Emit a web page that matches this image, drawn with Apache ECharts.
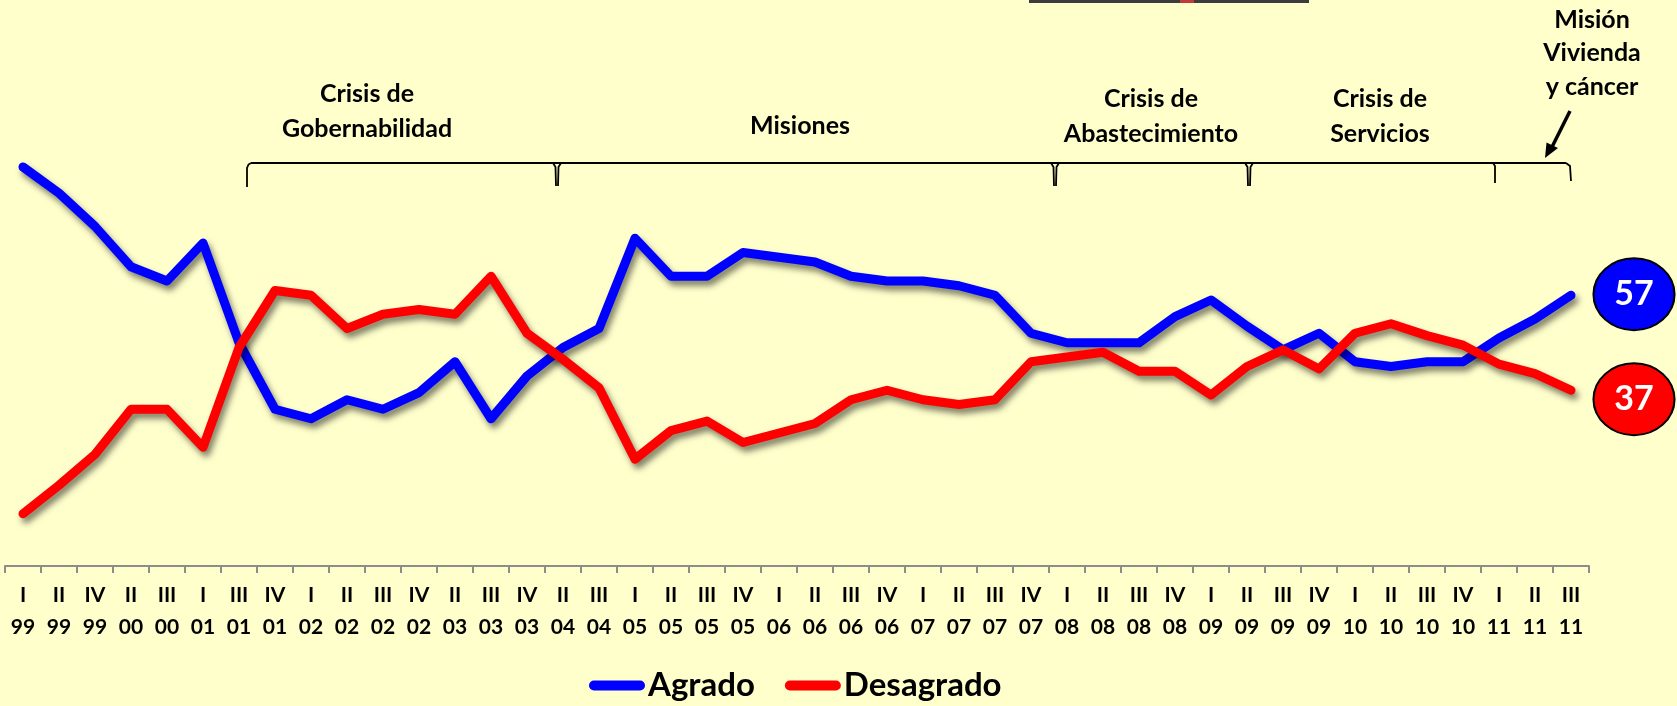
<!DOCTYPE html>
<html>
<head>
    <meta http-equiv="Content-Type" content="text/html; charset=utf-8"/>
    <title>Agrado / Desagrado</title>
    <style>
        html, body { margin: 0; padding: 0; background: #FFFFCC; }
        #main { width: 1677px; height: 706px; }
    </style>
    <script src="https://cdn.jsdelivr.net/npm/echarts@6/dist/echarts.min.js"></script>
</head>
<body>
<div id="main"></div>
<script type="text/javascript">
    // trimestres y años
    var trimestres = ['I','II','IV','II','III','I','III','IV','I','II','III','IV','II','III','IV',
        'II','III','I','II','III','IV','I','II','III','IV','I','II','III','IV','I',
        'II','III','IV','I','II','III','IV','I','II','III','IV','I','II','III'];
    var anios = ['99','99','99','00','00','01','01','01','02','02','02','02','03','03','03',
        '04','04','05','05','05','05','06','06','06','06','07','07','07','07','08',
        '08','08','08','09','09','09','09','10','10','10','10','11','11','11'];

    var agrado = [84, 78.5, 71.5, 63, 60, 68, 47, 33, 31, 35, 33, 36.5, 43, 31, 40,
        46, 50, 69, 61, 61, 66, 65, 64, 61, 60, 60, 59, 57, 49, 47,
        47, 47, 52.5, 56, 50.5, 45.5, 49, 43, 42, 43, 43, 48, 52, 57];
    var desagrado = [11, 17, 23.5, 33, 33, 25, 46, 58, 57, 50, 53, 54, 53, 61, 49,
        43.5, 37.5, 22.5, 28.5, 30.5, 26, 28, 30, 35, 37, 35, 34, 35, 43, 44,
        45, 41, 41, 36, 42, 45.5, 41.5, 49, 51, 48.5, 46.5, 42.5, 40.5, 37];

    var categorias = [];
    for (var i = 0; i < trimestres.length; i++) {
        categorias.push(trimestres[i] + '\n' + anios[i]);
    }
    var ultimo = agrado.length - 1;

    var elipse = 'path://M0,36 A40,36 0 1,1 80,36 A40,36 0 1,1 0,36 Z';
    var pildora = 'path://M5,0 H51 A5,5 0 0 1 51,10 H5 A5,5 0 0 1 5,0 Z';
    var fuente = 'Lato, "Open Sans", sans-serif';

    function texto(t, x, y, lh) {
        return {
            type: 'text', x: x, y: y, silent: true,
            style: {
                text: t, fill: '#000', font: 'bold 25px ' + fuente,
                align: 'center', verticalAlign: 'middle',
                textAlign: 'center', textVerticalAlign: 'middle',
                lineHeight: lh || 35
            }
        };
    }
    function trazo(pts) {
        return {
            type: 'polyline', silent: true,
            shape: { points: pts },
            style: { stroke: '#000', lineWidth: 1.8, fill: null }
        };
    }

    var myChart = echarts.init(document.getElementById('main'));

    var option = {
        backgroundColor: '#FFFFCC',
        animation: false,
        textStyle: { fontFamily: fuente },
        grid: { left: 5, right: 88, top: 91, bottom: 140 },
        legend: {
            left: 584,
            top: 664,
            itemWidth: 56,
            itemHeight: 10,
            itemGap: 30,
            textStyle: { fontSize: 33, fontWeight: 'bold', color: '#000', padding: [0, 0, 0, -2] },
            data: [
                { name: 'Agrado', icon: pildora },
                { name: 'Desagrado', icon: pildora }
            ],
            itemStyle: { shadowBlur: 0, shadowOffsetX: 0, shadowOffsetY: 0 },
            lineStyle: { shadowBlur: 0, shadowOffsetX: 0, shadowOffsetY: 0 }
        },
        xAxis: {
            type: 'category',
            data: categorias,
            boundaryGap: true,
            axisLine: { show: true, lineStyle: { color: '#8c8c8c', width: 2 } },
            axisTick: { show: true, interval: 0, alignWithLabel: false, length: 7, lineStyle: { color: '#8c8c8c', width: 2 } },
            axisLabel: {
                interval: 0,
                margin: 13,
                color: '#000',
                fontSize: 21,
                fontWeight: 'bold',
                lineHeight: 32
            }
        },
        yAxis: {
            type: 'value',
            min: 0,
            max: 100,
            show: false,
            splitLine: { show: false }
        },
        series: [
            {
                name: 'Agrado',
                type: 'line',
                data: agrado,
                symbol: 'none',
                color: '#0000FF',
                lineStyle: {
                    color: '#0000FF', width: 9, cap: 'round', join: 'round',
                    shadowColor: 'rgba(0,0,0,0.5)', shadowBlur: 6,
                    shadowOffsetX: 3, shadowOffsetY: 5
                },
                markPoint: {
                    symbol: elipse,
                    symbolSize: [81, 72],
                    symbolOffset: [63, -1],
                    itemStyle: { color: '#0000FF', borderColor: '#000', borderWidth: 2 },
                    label: { show: true, color: '#fff', fontSize: 34, fontWeight: 'bold', formatter: '{c}' },
                    data: [{ coord: [ultimo, agrado[ultimo]], value: agrado[ultimo] }]
                }
            },
            {
                name: 'Desagrado',
                type: 'line',
                data: desagrado,
                symbol: 'none',
                color: '#FF0000',
                lineStyle: {
                    color: '#FF0000', width: 9, cap: 'round', join: 'round',
                    shadowColor: 'rgba(0,0,0,0.5)', shadowBlur: 6,
                    shadowOffsetX: 3, shadowOffsetY: 5
                },
                markPoint: {
                    symbol: elipse,
                    symbolSize: [81, 72],
                    symbolOffset: [63, 9],
                    itemStyle: { color: '#FF0000', borderColor: '#000', borderWidth: 2 },
                    label: { show: true, color: '#fff', fontSize: 34, fontWeight: 'bold', formatter: '{c}' },
                    data: [{ coord: [ultimo, desagrado[ultimo]], value: desagrado[ultimo] }]
                }
            }
        ],
        graphic: [
            // recorte oscuro arriba
            { type: 'rect', silent: true, shape: { x: 1029, y: 0, width: 280, height: 3 }, style: { fill: '#3c3c3c' } },
            { type: 'rect', silent: true, shape: { x: 1180, y: 0, width: 14, height: 3 }, style: { fill: '#c03a3a' } },

            // llaves de los periodos
            trazo([[251, 163], [1566, 163]]),
            trazo([[247, 187], [247, 168], [248.5, 164.5], [251, 163]]),
            trazo([[553, 163], [555.5, 167], [556, 186]]),
            trazo([[561, 163], [558.5, 167], [558, 186]]),
            trazo([[1051, 163], [1053.5, 167], [1054, 186]]),
            trazo([[1059, 163], [1056.5, 167], [1056, 186]]),
            trazo([[1245, 163], [1247.5, 167], [1248, 186]]),
            trazo([[1253, 163], [1250.5, 167], [1250, 186]]),
            trazo([[1493, 163], [1495, 166], [1495, 183]]),
            trazo([[1566, 163], [1570, 166], [1571, 181]]),

            texto('Crisis de\nGobernabilidad', 367, 111.5),
            texto('Misiones', 800, 126),
            texto('Crisis de\nAbastecimiento', 1151, 116.5),
            texto('Crisis de\nServicios', 1380, 116.5),
            texto('Misión\nVivienda\ny cáncer', 1592, 53, 33.5),

            // flecha
            { type: 'line', silent: true, shape: { x1: 1570, y1: 111, x2: 1551, y2: 149 }, style: { stroke: '#000', lineWidth: 3.5 } },
            { type: 'polygon', silent: true, shape: { points: [[1545, 158], [1558, 148], [1546.5, 142.5]] }, style: { fill: '#000' } }
        ]
    };
    myChart.setOption(option);
</script>
</body>
</html>
